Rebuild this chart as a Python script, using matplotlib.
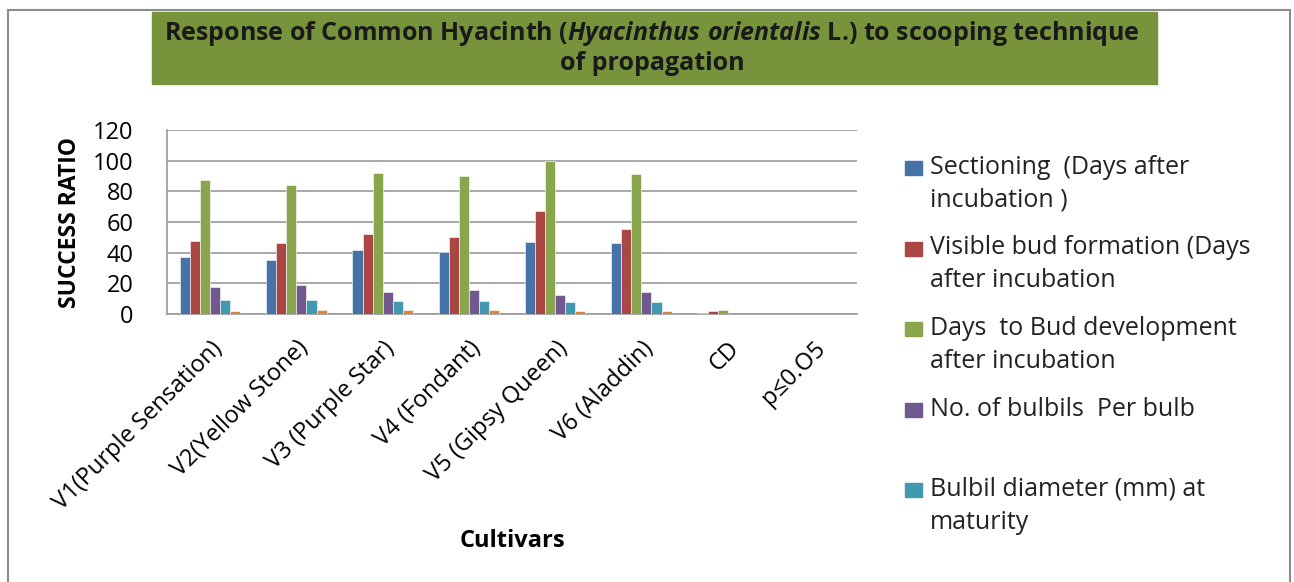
import numpy as np
import matplotlib
matplotlib.use("Agg")
import matplotlib.pyplot as plt
from matplotlib.patches import Rectangle
from matplotlib import font_manager

cultivars = ["V1(Purple Sensation)", "V2(Yellow Stone)", "V3 (Purple Star)",
             "V4 (Fondant)", "V5 (Gipsy Queen)", "V6 (Aladdin)", "CD", "p≤0.O5"]

sectioning = [37.0, 35.2, 42.0, 40.2, 47.0, 46.3, 0.9, 0]
bud_formation = [47.8, 46.3, 52.0, 50.4, 67.4, 55.4, 1.7, 0]
bud_development = [87.4, 83.9, 92.2, 89.8, 99.6, 91.5, 2.6, 0]
bulbils_per_bulb = [17.8, 18.7, 14.3, 15.9, 12.6, 14.3, 0, 0]
bulbil_diameter = [9.3, 9.3, 8.5, 8.5, 7.6, 7.6, 0, 0]
sixth_series = [1.7, 2.8, 2.8, 2.8, 1.7, 1.7, 0, 0]

series = [sectioning, bud_formation, bud_development,
          bulbils_per_bulb, bulbil_diameter, sixth_series]
legend_labels = ["Sectioning  (Days after\nincubation )",
                 "Visible bud formation (Days\nafter incubation",
                 "Days  to Bud development\nafter incubation",
                 "No. of bulbils  Per bulb",
                 "Bulbil diameter (mm) at\nmaturity"]
colors = ["#4572A7", "#AA4643", "#89A54E", "#71588F", "#4198AF", "#DB843D"]
yticks = [0, 20, 40, 60, 80, 100, 120]

names = {f.name for f in font_manager.fontManager.ttflist}
base_font = "Open Sans" if "Open Sans" in names else "DejaVu Sans"
title_font = "Liberation Sans Narrow" if "Liberation Sans Narrow" in names else base_font
plt.rcParams["font.family"] = [base_font, "DejaVu Sans"]

W, H = 1294, 582
fig = plt.figure(figsize=(W / 100, H / 100), dpi=100)
ax = fig.add_axes([167 / W, 1 - 314 / H, (857 - 167) / W, (314 - 130) / H])

x = np.arange(len(cultivars))
n = len(series)
bw = 0.7 / n
for i, (vals, c) in enumerate(zip(series, colors)):
    ax.bar(x - 0.35 + bw * (i + 0.5), vals, bw, color=c, edgecolor="white",
           linewidth=0.4, zorder=3)

ax.set_xlim(-0.5, len(cultivars) - 0.5)
ax.set_ylim(0, 120)
ax.set_yticks(yticks)
ax.tick_params(axis="y", labelsize=17, length=0, pad=24)
ax.grid(axis="y", color="#9a9a9a", linewidth=1.2, zorder=0)
for s in ["top", "right"]:
    ax.spines[s].set_visible(False)
ax.spines["left"].set_color("#9a9a9a")
ax.spines["bottom"].set_color("#9a9a9a")
ax.spines["left"].set_linewidth(1.2)
ax.spines["bottom"].set_linewidth(1.2)
ax.set_xticks(x)
ax.set_xticklabels(cultivars, rotation=45, ha="right", rotation_mode="anchor",
                   fontsize=17)
ax.tick_params(axis="x", length=0, pad=16)
ax.set_ylabel("SUCCESS RATIO", fontsize=16.5, fontweight="bold", labelpad=8)
fig.text(512 / W, 1 - 541 / H, "Cultivars", fontsize=17, fontweight="bold",
         ha="center", va="center")

# manual legend (entries aligned with the first text line)
for i, (lab, c) in enumerate(zip(legend_labels, colors)):
    ytop = 168 + 80.5 * i
    fig.patches.append(Rectangle((905 / W, 1 - (ytop + 7) / H), 17 / W, 14 / H,
                                 transform=fig.transFigure, color=c))
    fig.text(930 / W, 1 - (ytop - 13) / H, lab, fontsize=18, va="top", ha="left",
             color="#222222", linespacing=1.4)

# title box
fig.patches.append(Rectangle((152 / W, 1 - 84 / H), (1157 - 152) / W, 72 / H,
                             transform=fig.transFigure, color="#77933C", zorder=0))
plt.rcParams["mathtext.fontset"] = "custom"
plt.rcParams["mathtext.it"] = f"{title_font}:italic:bold"
plt.rcParams["mathtext.rm"] = f"{title_font}:bold"
fig.text(652 / W, 1 - 33 / H,
         r"Response of Common Hyacinth ($\mathit{Hyacinthus\ orientalis}$ L.) to scooping technique",
         family=title_font, fontweight="bold", fontsize=18, ha="center", va="center",
         color="#1a1a1a")
fig.text(652 / W, 1 - 64 / H, "of propagation", family=title_font, fontweight="bold",
         fontsize=18, ha="center", va="center", color="#1a1a1a")

# outer chart frame
fig.patches.append(Rectangle((8 / W, -0.01), (1290 - 8) / W, 1 - 10 / H + 0.01,
                             transform=fig.transFigure, fill=False,
                             edgecolor="#8c8c8c", linewidth=1.5))

fig.savefig("out.png", dpi=100)
